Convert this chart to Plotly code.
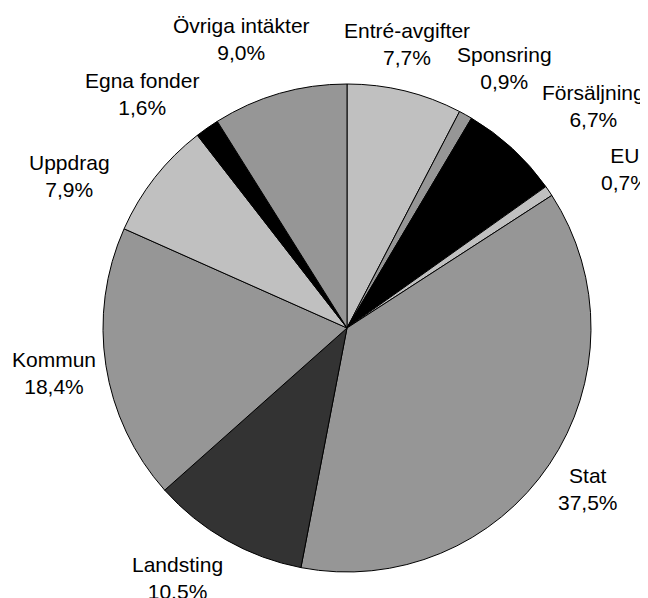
import plotly.graph_objects as go

labels = ["Entré-avgifter", "Sponsring", "Försäljning", "EU", "Stat",
          "Landsting", "Kommun", "Uppdrag", "Egna fonder", "Övriga intäkter"]
values = [7.7, 0.9, 6.7, 0.7, 37.5, 10.5, 18.4, 7.9, 1.6, 9.0]
pct_text = ["7,7%", "0,9%", "6,7%", "0,7%", "37,5%", "10.5%", "18,4%", "7,9%", "1,6%", "9,0%"]
colors = ["#c0c0c0", "#969696", "#000000", "#c0c0c0", "#969696",
          "#333333", "#969696", "#c0c0c0", "#000000", "#969696"]

# label positions in screen pixels (center x, center y of the 2-line block)
label_pos = [(407, 43.5), (504, 68.5), (593, 106.5), (625, 168.5), (588, 488.5),
             (177, 578), (54, 373.5), (69, 175.5), (142, 93.5), (241, 38.5)]

OFF = 8  # page body margin
W, H = 640, 590
cx, cy, r = 347 - OFF, 328 - OFF, 244

fig = go.Figure(go.Pie(
    labels=labels, values=values, sort=False, direction="clockwise", rotation=0,
    marker=dict(colors=colors, line=dict(color="black", width=1)),
    textinfo="none", hoverinfo="label+percent", showlegend=False,
    domain=dict(x=[(cx - r) / W, (cx + r) / W], y=[1 - (cy + r) / H, 1 - (cy - r) / H]),
))

for lab, pt, (px, py) in zip(labels, pct_text, label_pos):
    fig.add_annotation(x=(px - OFF) / W, y=1 - (py - OFF) / H, xref="paper", yref="paper",
                       text=f"{lab}<br>{pt}", showarrow=False,
                       xanchor="center", yanchor="middle", align="center",
                       font=dict(family="Liberation Sans, Arial", size=21, color="black"))

fig.update_layout(width=W, height=H, margin=dict(l=0, r=0, t=0, b=0),
                  paper_bgcolor="white", plot_bgcolor="white")
fig.write_html("out.html")
